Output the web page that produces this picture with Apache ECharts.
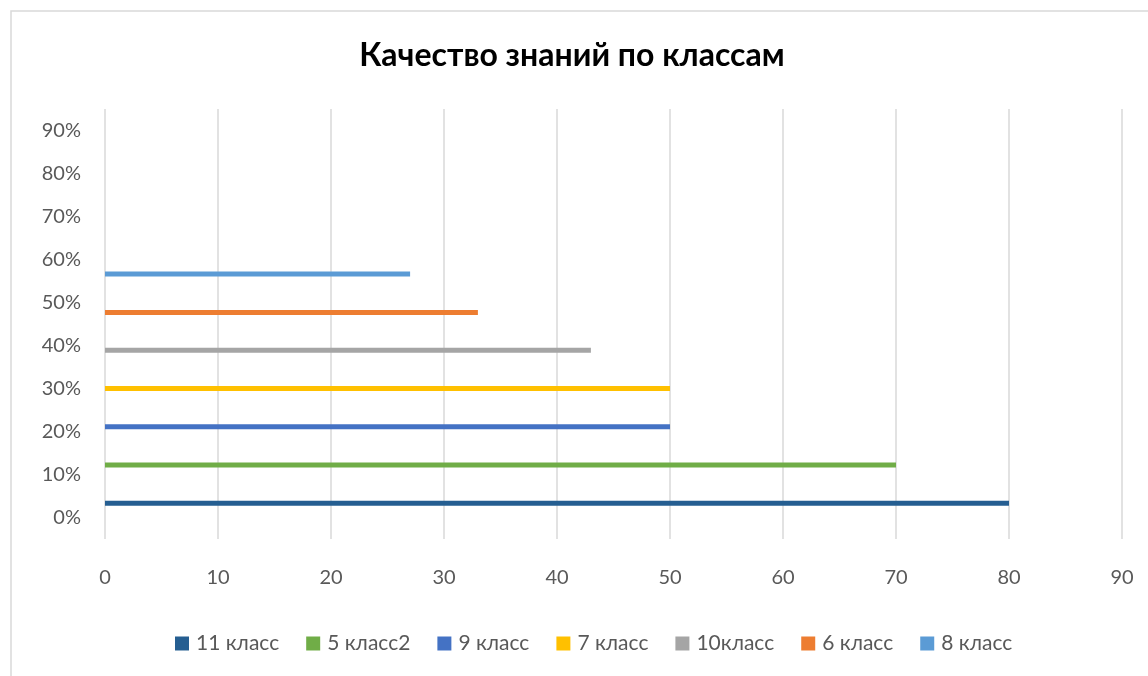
<!DOCTYPE html>
<html>
<head>
<meta charset="utf-8">
<script src="https://cdn.jsdelivr.net/npm/echarts@6/dist/echarts.min.js"></script>
<style>html,body{margin:0;padding:0;background:#fff;}#c{width:1148px;height:676px;}</style>
</head>
<body>
<div id="c"></div>
<script>
var title = 'Качество знаний по классам';
var yLabels = ['0%','10%','20%','30%','40%','50%','60%','70%','80%','90%'];
var seriesNames = ['11 класс','5 класс2','9 класс','7 класс','10класс','6 класс','8 класс'];
var seriesValues = [80, 70, 50, 50, 43, 33, 27];
var seriesLevels = [8.3, 17.2, 26.1, 35.0, 43.9, 52.7, 61.6];
var colors = ['#255e91','#70ad47','#4472c4','#ffc000','#a5a5a5','#ed7d31','#5b9bd5'];

var FONT = 'Lato';
var chart = echarts.init(document.getElementById('c'));
var series = seriesNames.map(function(n, i){
  return {
    name: n, type: 'line', xAxisIndex: 0, yAxisIndex: 1,
    data: [[0, seriesLevels[i]], [seriesValues[i], seriesLevels[i]]],
    symbol: 'none', silent: true, animation: false,
    lineStyle: {color: colors[i], width: 5, cap: 'butt'},
    itemStyle: {color: colors[i]}
  };
});
chart.setOption({
  animation: false,
  color: colors,
  title: {text: title, left: 567, textAlign: 'center', top: 35,
    textStyle: {fontFamily: FONT, fontWeight: 'bold', fontSize: 32, color: '#000'}},
  graphic: [{type: 'rect', shape: {x: 11, y: 11, width: 1300, height: 800},
    style: {fill: 'none', stroke: '#d9d9d9', lineWidth: 1.5}, silent: true}],
  grid: {left: 105, right: 26, top: 109, bottom: 137, containLabel: false},
  legend: {bottom: 17, left: 170, itemWidth: 14, itemHeight: 14, itemGap: 27,
    icon: 'rect', data: seriesNames,
    textStyle: {fontFamily: FONT, fontSize: 21, color: '#595959', padding: [0,0,0,2]}},
  xAxis: [{type: 'value', min: 0, max: 90, interval: 10,
    axisLine: {show: false}, axisTick: {show: false},
    axisLabel: {fontFamily: FONT, fontSize: 20, color: '#595959', margin: 29},
    splitLine: {show: true, lineStyle: {color: '#d9d9d9', width: 1.5}}}],
  yAxis: [
    {type: 'category', data: yLabels, boundaryGap: true,
      axisLine: {show: false}, axisTick: {show: false}, splitLine: {show: false},
      axisLabel: {fontFamily: FONT, fontSize: 20, color: '#595959', margin: 24}},
    {type: 'value', min: 0, max: 100, show: false, splitLine: {show: false}}
  ],
  series: series
});
</script>
</body>
</html>
